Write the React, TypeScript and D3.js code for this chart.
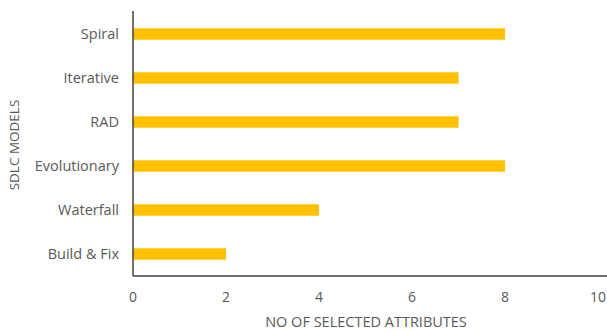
import React from "react";
import * as d3 from "d3";

const categories = ["Spiral", "Iterative", "RAD", "Evolutionary", "Waterfall", "Build & Fix"];
const values = [8, 7, 7, 8, 4, 2];
const xTicks = [0, 2, 4, 6, 8, 10];
const xTitle = "NO OF SELECTED ATTRIBUTES";
const yTitle = "SDLC MODELS";

export default function App() {
  const W = 607, H = 331;
  const left = 133, right = 598, top = 12, bottom = 276;
  const x = d3.scaleLinear().domain([0, 10]).range([left, right]);
  const y = d3.scaleBand().domain(categories).range([top, bottom]).paddingInner(0.74).paddingOuter(0.37);
  const font = "'Open Sans', sans-serif";
  const gray = "#595959";
  return (
    <svg width={W} height={H} style={{ position: "absolute", left: 0, top: 0, background: "#fff" }}>
      {categories.map((c, i) => (
        <rect key={c} x={x(0)} y={y(c)!} width={x(values[i]) - x(0)} height={y.bandwidth()} fill="#FFC000" />
      ))}
      <line x1={left} x2={left} y1={top - 1} y2={bottom} stroke="#404040" strokeWidth={1.5} />
      <line x1={left} x2={W} y1={bottom} y2={bottom} stroke="#404040" strokeWidth={1.5} />
      {categories.map((c) => (
        <text key={c} x={left - 14} y={y(c)! + y.bandwidth() / 2 - 1} textAnchor="end" dominantBaseline="central"
          fontFamily={font} fontSize={14.5} fill={gray}>{c}</text>
      ))}
      {xTicks.map((t) => (
        <text key={t} x={x(t)} y={296} textAnchor="middle" dominantBaseline="central" fontFamily={font} fontSize={14} fill={gray}>{t}</text>
      ))}
      <text x={366} y={321} textAnchor="middle" dominantBaseline="central" fontFamily={font} fontSize={14.5} fill={gray}>{xTitle}</text>
      <text transform={`translate(14,${145}) rotate(-90)`} textAnchor="middle" dominantBaseline="central" fontFamily={font} fontSize={13.5} fill={gray}>{yTitle}</text>
    </svg>
  );
}
